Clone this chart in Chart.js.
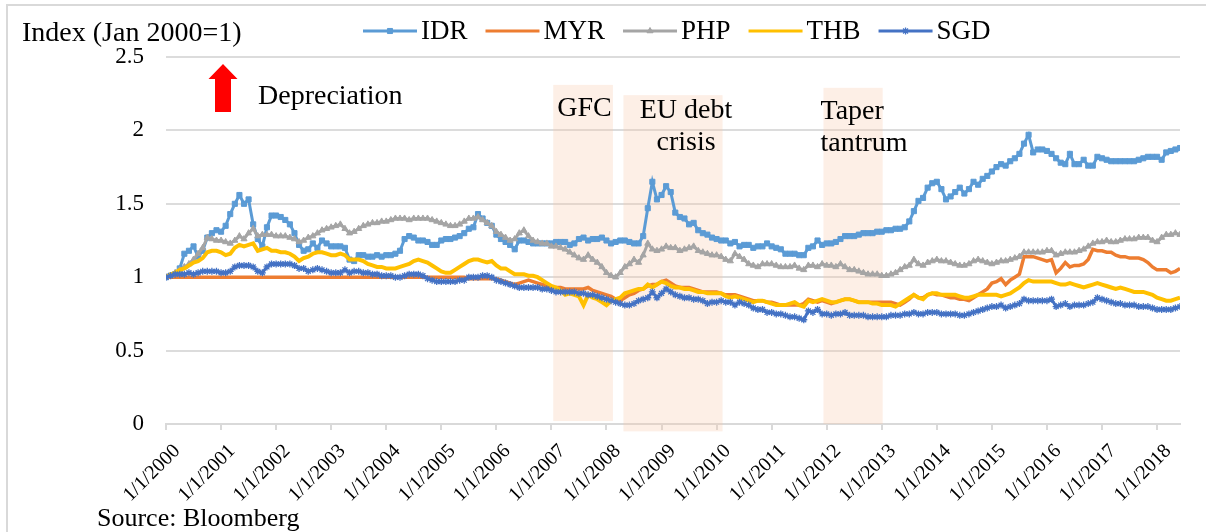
<!DOCTYPE html>
<html>
<head>
<meta charset="utf-8">
<script src="https://cdn.jsdelivr.net/npm/chart.js@4.4.1/dist/chart.umd.min.js"></script>
<style>
  html, body { margin: 0; padding: 0; background: #fff; overflow: hidden; }
  #wrap { position: relative; width: 1206px; height: 532px; }
</style>
</head>
<body>
<div id="wrap"><canvas id="fxChart"></canvas></div>
<script>
// monthly index values, Jan 2000 = 1 (month 0), one row per year
const startYear = 2000;

const idr = [
  1.00, 1.01, 1.02, 1.06, 1.16, 1.18, 1.21, 1.14, 1.18, 1.27, 1.30, 1.32,
  1.31, 1.35, 1.43, 1.50, 1.56, 1.50, 1.53, 1.36, 1.26, 1.21, 1.34, 1.42,
  1.42, 1.41, 1.39, 1.36, 1.30, 1.22, 1.18, 1.19, 1.23, 1.20, 1.25, 1.23,
  1.21, 1.21, 1.21, 1.20, 1.12, 1.11, 1.15, 1.15, 1.14, 1.14, 1.15, 1.14,
  1.15, 1.15, 1.16, 1.18, 1.26, 1.28, 1.27, 1.25, 1.25, 1.24, 1.22, 1.22,
  1.25, 1.26, 1.26, 1.27, 1.28, 1.30, 1.33, 1.34, 1.43, 1.40, 1.37, 1.35,
  1.29, 1.26, 1.24, 1.22, 1.19, 1.25, 1.25, 1.24, 1.23, 1.23, 1.23, 1.23,
  1.23, 1.24, 1.24, 1.24, 1.22, 1.23, 1.26, 1.27, 1.25, 1.26, 1.26, 1.27,
  1.25, 1.23, 1.24, 1.25, 1.25, 1.24, 1.23, 1.23, 1.28, 1.47, 1.65,
  1.53, 1.56, 1.62, 1.58, 1.44, 1.41, 1.40, 1.36, 1.37, 1.32, 1.30, 1.29,
  1.27, 1.26, 1.25, 1.25, 1.23, 1.24, 1.21, 1.22, 1.22, 1.20, 1.21, 1.21,
  1.23, 1.21, 1.20, 1.19, 1.16, 1.16, 1.16, 1.15, 1.15, 1.20, 1.21, 1.25,
  1.22, 1.23, 1.23, 1.24, 1.26, 1.28, 1.28, 1.28, 1.29, 1.30, 1.30, 1.30,
  1.31, 1.31, 1.32, 1.32, 1.33, 1.33, 1.34, 1.38, 1.45, 1.52, 1.54, 1.61,
  1.64, 1.65, 1.60, 1.53, 1.55, 1.58, 1.61, 1.57, 1.60, 1.65, 1.63, 1.67,
  1.69, 1.72, 1.75, 1.77, 1.76, 1.79, 1.81, 1.84, 1.91, 1.97, 1.85, 1.87,
  1.87, 1.86, 1.84, 1.81, 1.78, 1.77, 1.84, 1.77, 1.77, 1.80, 1.76, 1.76,
  1.82, 1.81, 1.80, 1.79, 1.79, 1.79, 1.79, 1.79, 1.79, 1.80, 1.81, 1.82,
  1.82, 1.82, 1.80, 1.85, 1.86, 1.87, 1.88
];

const myr = [
  1.00, 1.00, 1.00, 1.00, 1.00, 1.00, 1.00, 1.00, 1.00, 1.00, 1.00, 1.00,
  1.00, 1.00, 1.00, 1.00, 1.00, 1.00, 1.00, 1.00, 1.00, 1.00, 1.00, 1.00,
  1.00, 1.00, 1.00, 1.00, 1.00, 1.00, 1.00, 1.00, 1.00, 1.00, 1.00, 1.00,
  1.00, 1.00, 1.00, 1.00, 1.00, 1.00, 1.00, 1.00, 1.00, 1.00, 1.00, 1.00,
  1.00, 1.00, 1.00, 1.00, 1.00, 1.00, 1.00, 1.00, 1.00, 1.00, 1.00, 1.00,
  1.00, 1.00, 1.00, 1.00, 1.00, 1.00, 0.99, 0.99, 0.99, 0.99, 0.99, 0.99,
  0.99, 0.98, 0.97, 0.96, 0.95, 0.96, 0.97, 0.98, 0.97, 0.96, 0.95, 0.94,
  0.93, 0.93, 0.93, 0.92, 0.92, 0.92, 0.92, 0.92, 0.93, 0.91, 0.90, 0.89,
  0.88, 0.87, 0.85, 0.84, 0.86, 0.88, 0.89, 0.91, 0.92, 0.94, 0.95,
  0.95, 0.97, 0.98, 0.96, 0.94, 0.93, 0.93, 0.93, 0.92, 0.91, 0.90, 0.90,
  0.90, 0.90, 0.89, 0.88, 0.88, 0.88, 0.87, 0.86, 0.85, 0.84, 0.84, 0.84,
  0.83, 0.83, 0.82, 0.81, 0.81, 0.81, 0.81, 0.81, 0.82, 0.85, 0.84, 0.83,
  0.84, 0.83, 0.82, 0.83, 0.84, 0.85, 0.85, 0.84, 0.83, 0.83, 0.83, 0.83,
  0.83, 0.83, 0.83, 0.83, 0.82, 0.81, 0.83, 0.85, 0.88, 0.86, 0.86, 0.88,
  0.89, 0.88, 0.88, 0.87, 0.86, 0.86, 0.85, 0.85, 0.84, 0.86, 0.88, 0.90,
  0.92, 0.96, 0.97, 0.99, 0.95, 0.98, 1.00, 1.02, 1.14, 1.14, 1.14, 1.13,
  1.12, 1.11, 1.12, 1.03, 1.06, 1.10, 1.07, 1.08, 1.08, 1.09, 1.12, 1.19,
  1.18, 1.18, 1.17, 1.17, 1.15, 1.14, 1.14, 1.13, 1.13, 1.13, 1.12, 1.10,
  1.07, 1.05, 1.05, 1.05, 1.03, 1.04, 1.06
];

const php = [
  1.00, 1.01, 1.03, 1.05, 1.07, 1.09, 1.12, 1.16, 1.20, 1.27, 1.26, 1.25,
  1.25, 1.24, 1.23, 1.25, 1.28, 1.26, 1.30, 1.33, 1.28, 1.29, 1.29, 1.29,
  1.28, 1.28, 1.28, 1.27, 1.26, 1.24, 1.25, 1.27, 1.28, 1.30, 1.32, 1.33,
  1.34, 1.35, 1.36, 1.33, 1.30, 1.31, 1.33, 1.35, 1.36, 1.37, 1.37, 1.38,
  1.38, 1.39, 1.40, 1.40, 1.40, 1.39, 1.40, 1.40, 1.40, 1.40, 1.39, 1.38,
  1.37, 1.36, 1.35, 1.35, 1.36, 1.38, 1.40, 1.40, 1.41, 1.39, 1.37, 1.35,
  1.31, 1.29, 1.27, 1.25, 1.26, 1.30, 1.32, 1.28, 1.25, 1.24, 1.23, 1.23,
  1.21, 1.21, 1.20, 1.19, 1.17, 1.15, 1.13, 1.12, 1.15, 1.12, 1.10, 1.07,
  1.03, 1.01, 1.00, 1.03, 1.07, 1.09, 1.12, 1.10, 1.15, 1.23, 1.19,
  1.18, 1.19, 1.21, 1.20, 1.20, 1.18, 1.19, 1.20, 1.21, 1.18, 1.17, 1.16,
  1.15, 1.15, 1.14, 1.12, 1.11, 1.16, 1.14, 1.12, 1.09, 1.08, 1.07, 1.09,
  1.09, 1.09, 1.08, 1.07, 1.07, 1.07, 1.08, 1.06, 1.05, 1.08, 1.08, 1.07,
  1.09, 1.08, 1.08, 1.07, 1.09, 1.07, 1.05, 1.05, 1.04, 1.03, 1.02, 1.02,
  1.02, 1.01, 1.01, 1.02, 1.03, 1.05, 1.07, 1.08, 1.12, 1.09, 1.08, 1.10,
  1.11, 1.12, 1.11, 1.11, 1.10, 1.09, 1.08, 1.08, 1.09, 1.11, 1.12, 1.11,
  1.10, 1.09, 1.10, 1.11, 1.11, 1.12, 1.13, 1.14, 1.17, 1.17, 1.17, 1.17,
  1.17, 1.18, 1.18, 1.15, 1.16, 1.17, 1.17, 1.17, 1.18, 1.19, 1.21, 1.23,
  1.24, 1.24, 1.25, 1.24, 1.24, 1.25, 1.26, 1.26, 1.26, 1.27, 1.27, 1.27,
  1.25, 1.24, 1.27, 1.29, 1.29, 1.30, 1.29
];

const thb = [
  1.00, 1.02, 1.03, 1.05, 1.06, 1.08, 1.10, 1.11, 1.13, 1.17, 1.18, 1.18,
  1.17, 1.15, 1.16, 1.20, 1.22, 1.21, 1.22, 1.23, 1.18, 1.19, 1.20, 1.18,
  1.18, 1.17, 1.17, 1.16, 1.14, 1.11, 1.13, 1.14, 1.16, 1.17, 1.17, 1.16,
  1.15, 1.15, 1.16, 1.15, 1.12, 1.12, 1.12, 1.11, 1.09, 1.08, 1.07, 1.07,
  1.06, 1.06, 1.06, 1.07, 1.08, 1.09, 1.11, 1.12, 1.11, 1.10, 1.08, 1.06,
  1.04, 1.03, 1.03, 1.05, 1.07, 1.09, 1.11, 1.12, 1.12, 1.11, 1.10, 1.11,
  1.08, 1.06, 1.06, 1.04, 1.02, 1.02, 1.02, 1.01, 1.01, 1.00, 0.98, 0.96,
  0.94, 0.93, 0.91, 0.88, 0.89, 0.88, 0.87, 0.81, 0.88, 0.86, 0.85, 0.83,
  0.81, 0.84, 0.85, 0.86, 0.89, 0.90, 0.91, 0.92, 0.92, 0.95, 0.93,
  0.95, 0.97, 0.96, 0.94, 0.93, 0.93, 0.92, 0.92, 0.91, 0.90, 0.90, 0.89,
  0.89, 0.89, 0.89, 0.87, 0.86, 0.87, 0.86, 0.85, 0.84, 0.83, 0.84, 0.84,
  0.83, 0.82, 0.81, 0.81, 0.81, 0.82, 0.83, 0.81, 0.80, 0.84, 0.83, 0.84,
  0.85, 0.84, 0.83, 0.83, 0.84, 0.85, 0.85, 0.84, 0.83, 0.83, 0.83, 0.82,
  0.82, 0.81, 0.81, 0.81, 0.80, 0.82, 0.84, 0.86, 0.88, 0.86, 0.85, 0.88,
  0.89, 0.89, 0.88, 0.88, 0.88, 0.88, 0.87, 0.86, 0.86, 0.87, 0.88, 0.88,
  0.88, 0.88, 0.88, 0.87, 0.88, 0.89, 0.91, 0.93, 0.96, 0.98, 0.97, 0.97,
  0.97, 0.97, 0.97, 0.96, 0.95, 0.95, 0.96, 0.95, 0.94, 0.93, 0.94, 0.95,
  0.96, 0.95, 0.94, 0.93, 0.92, 0.93, 0.92, 0.91, 0.90, 0.90, 0.90, 0.89,
  0.88, 0.86, 0.85, 0.84, 0.84, 0.85, 0.86
];

const sgd = [
  1.00, 1.01, 1.02, 1.02, 1.02, 1.03, 1.02, 1.03, 1.04, 1.04, 1.04, 1.04,
  1.03, 1.03, 1.04, 1.07, 1.08, 1.08, 1.08, 1.07, 1.04, 1.03, 1.07, 1.09,
  1.09, 1.09, 1.09, 1.09, 1.08, 1.06, 1.06, 1.04, 1.05, 1.06, 1.05, 1.04,
  1.03, 1.03, 1.03, 1.05, 1.03, 1.04, 1.04, 1.03, 1.03, 1.02, 1.02, 1.01,
  1.01, 1.01, 1.00, 1.00, 1.01, 1.02, 1.02, 1.02, 1.01, 0.99, 0.98, 0.97,
  0.97, 0.97, 0.97, 0.97, 0.98, 0.98, 1.00, 1.00, 1.00, 1.01, 1.01, 1.00,
  0.98, 0.97, 0.96, 0.95, 0.94, 0.93, 0.93, 0.93, 0.93, 0.93, 0.92, 0.92,
  0.91, 0.90, 0.90, 0.90, 0.90, 0.90, 0.89, 0.89, 0.88, 0.88, 0.87, 0.86,
  0.85, 0.84, 0.83, 0.82, 0.81, 0.81, 0.82, 0.84, 0.85, 0.86, 0.90,
  0.86, 0.89, 0.92, 0.90, 0.88, 0.87, 0.86, 0.86, 0.85, 0.85, 0.84, 0.82,
  0.83, 0.83, 0.84, 0.83, 0.83, 0.81, 0.83, 0.82, 0.81, 0.79, 0.78, 0.78,
  0.76, 0.76, 0.75, 0.75, 0.74, 0.73, 0.73, 0.72, 0.71, 0.77, 0.76, 0.78,
  0.75, 0.75, 0.74, 0.75, 0.75, 0.76, 0.74, 0.74, 0.74, 0.74, 0.73, 0.73,
  0.73, 0.73, 0.73, 0.74, 0.74, 0.74, 0.75, 0.75, 0.76, 0.75, 0.75, 0.76,
  0.76, 0.76, 0.75, 0.75, 0.75, 0.75, 0.74, 0.74, 0.75, 0.76, 0.77, 0.78,
  0.79, 0.80, 0.80, 0.81, 0.79, 0.80, 0.81, 0.82, 0.85, 0.84, 0.84, 0.84,
  0.84, 0.84, 0.85, 0.80, 0.81, 0.82, 0.80, 0.81, 0.81, 0.81, 0.82, 0.83,
  0.86, 0.85, 0.84, 0.83, 0.82, 0.82, 0.81, 0.81, 0.81, 0.80, 0.80, 0.80,
  0.79, 0.78, 0.78, 0.78, 0.78, 0.79, 0.80
];

// shaded episodes, in month index (0 = Jan 2000) and index units
const episodes = [
  { name: ["GFC"], start: 84.4, end: 97.4, low: 0.02, high: 2.31 },
  { name: ["EU debt", "crisis"], start: 99.7, end: 121.3, low: -0.05, high: 2.24 },
  { name: ["Taper", "tantrum"], start: 143.3, end: 156.2, low: 0, high: 2.29 }
];

const yTicks = [0, 0.5, 1, 1.5, 2, 2.5];

const serif = "'Liberation Serif', 'Times New Roman', serif";
Chart.defaults.font.family = serif;
Chart.defaults.color = "#000";

const toPoints = arr => arr.map((v, i) => ({ x: i, y: v }));
const lastMonth = idr.length - 1;
const dateLabel = m => "1/1/" + (startYear + m / 12);

// where each episode label sits relative to its band
const episodeLabelLayout = [
  { align: "left", dx: 4, base: [116] },
  { align: "center", dx: 13, base: [118, 150] },
  { align: "left", dx: -3, base: [119, 151] }
];

const bandsPlugin = {
  id: "bands",
  beforeDraw(chart) {
    const ctx = chart.ctx;
    ctx.save();
    ctx.fillStyle = "#fff";
    ctx.fillRect(0, 0, chart.width, chart.height);
    ctx.strokeStyle = "#D9D9D9";
    ctx.lineWidth = 2;
    ctx.beginPath();
    ctx.moveTo(7, chart.height);
    ctx.lineTo(7, 5);
    ctx.lineTo(chart.width, 5);
    ctx.stroke();
    ctx.restore();
  },
  beforeDatasetsDraw(chart) {
    const { ctx, scales: { x, y } } = chart;
    ctx.save();
    ctx.fillStyle = "rgba(248, 203, 173, 0.3)";
    episodes.forEach(e => {
      const x1 = x.getPixelForValue(e.start);
      const x2 = x.getPixelForValue(e.end);
      const y1 = y.getPixelForValue(e.high);
      const y2 = y.getPixelForValue(e.low);
      ctx.fillRect(x1, y1, x2 - x1, y2 - y1);
    });
    ctx.restore();
  }
};

const drawMarker = (ctx, ds, cx, cy) => {
  if (!ds.pointRadius) return;
  ctx.fillStyle = ds.borderColor;
  ctx.strokeStyle = ds.borderColor;
  ctx.lineWidth = ds.pointBorderWidth || 1;
  if (Chart.helpers && Chart.helpers.drawPoint) {
    Chart.helpers.drawPoint(ctx, {
      pointStyle: ds.pointStyle, radius: ds.pointRadius,
      rotation: 0, borderWidth: ds.pointBorderWidth || 1
    }, cx, cy);
  } else {
    ctx.fillRect(cx - 3, cy - 3, 6, 6);
  }
};

const textPlugin = {
  id: "texts",
  afterDraw(chart) {
    const { ctx, scales: { x } } = chart;
    ctx.save();
    ctx.fillStyle = "#000";

    // rotated date labels under the year ticks
    ctx.font = "20px " + serif;
    ctx.textAlign = "right";
    ctx.textBaseline = "top";
    x.ticks.forEach(t => {
      ctx.save();
      ctx.translate(x.getPixelForValue(t.value) + 4, x.top + 17);
      ctx.rotate(-Math.PI / 4);
      ctx.fillText(dateLabel(t.value), 0, 0);
      ctx.restore();
    });

    ctx.textBaseline = "alphabetic";

    // y-axis title
    ctx.font = "28px " + serif;
    ctx.textAlign = "left";
    ctx.fillText("Index (Jan 2000=1)", 22, 41);

    // legend
    ctx.font = "27px " + serif;
    let lx = 363;
    const ly = 31;
    chart.data.datasets.forEach(ds => {
      ctx.strokeStyle = ds.borderColor;
      ctx.lineWidth = 3;
      ctx.beginPath();
      ctx.moveTo(lx, ly);
      ctx.lineTo(lx + 54, ly);
      ctx.stroke();
      drawMarker(ctx, ds, lx + 27, ly);
      ctx.fillStyle = "#000";
      ctx.fillText(ds.label, lx + 58, 38.5);
      lx += 58 + ctx.measureText(ds.label).width + 18;
    });

    // episode labels
    ctx.font = "28px " + serif;
    episodes.forEach((e, i) => {
      const lay = episodeLabelLayout[i];
      const left = x.getPixelForValue(e.start);
      const mid = (left + x.getPixelForValue(e.end)) / 2;
      ctx.textAlign = lay.align;
      const tx = lay.align === "center" ? mid + lay.dx : left + lay.dx;
      e.name.forEach((line, j) => ctx.fillText(line, tx, lay.base[j]));
    });

    // depreciation arrow
    ctx.fillStyle = "#FF0000";
    ctx.beginPath();
    ctx.moveTo(223, 64);
    ctx.lineTo(237.5, 79);
    ctx.lineTo(231, 79);
    ctx.lineTo(231, 112);
    ctx.lineTo(215, 112);
    ctx.lineTo(215, 79);
    ctx.lineTo(208.5, 79);
    ctx.closePath();
    ctx.fill();
    ctx.fillStyle = "#000";
    ctx.textAlign = "left";
    ctx.fillText("Depreciation", 258, 103.5);

    // source
    ctx.font = "26px " + serif;
    ctx.fillText("Source: Bloomberg", 97, 526);
    ctx.restore();
  }
};

new Chart(document.getElementById("fxChart"), {
  type: "line",
  data: {
    datasets: [
      {
        label: "IDR", data: toPoints(idr), borderColor: "#5B9BD5",
        backgroundColor: "#5B9BD5", borderWidth: 3,
        pointStyle: "rect", pointRadius: 3.6, pointBorderWidth: 1, order: 5
      },
      {
        label: "MYR", data: toPoints(myr), borderColor: "#ED7D31",
        backgroundColor: "#ED7D31", borderWidth: 3.5, pointRadius: 0, order: 4
      },
      {
        label: "PHP", data: toPoints(php), borderColor: "#A5A5A5",
        backgroundColor: "#A5A5A5", borderWidth: 3,
        pointStyle: "triangle", pointRadius: 3.5, pointBorderWidth: 1, order: 3
      },
      {
        label: "THB", data: toPoints(thb), borderColor: "#FFC000",
        backgroundColor: "#FFC000", borderWidth: 4, pointRadius: 0, order: 2
      },
      {
        label: "SGD", data: toPoints(sgd), borderColor: "#4472C4",
        backgroundColor: "#4472C4", borderWidth: 3,
        pointStyle: "star", pointRadius: 3.5, pointBorderWidth: 1.3, order: 1
      }
    ]
  },
  options: {
    responsive: true,
    maintainAspectRatio: false,
    animation: false,
    events: [],
    layout: { padding: { top: 57, right: 26, left: 0, bottom: 0 } },
    elements: { line: { tension: 0 } },
    plugins: {
      legend: { display: false },
      tooltip: { enabled: false },
      title: { display: false }
    },
    scales: {
      x: {
        type: "linear",
        min: 0,
        max: lastMonth,
        afterFit: s => { s.height = 108; },
        grid: {
          drawOnChartArea: false, drawTicks: true, tickLength: 6,
          color: "#D9D9D9", lineWidth: 2
        },
        border: { display: true, color: "#D9D9D9", width: 2 },
        ticks: {
          display: false,
          stepSize: 12,
          includeBounds: false,
          autoSkip: false,
          minRotation: 45,
          maxRotation: 45,
          callback: v => dateLabel(v)
        }
      },
      y: {
        min: yTicks[0],
        max: yTicks[yTicks.length - 1],
        afterFit: s => { s.width = 166; },
        grid: { color: "#DCDCDC", lineWidth: 2, drawTicks: false },
        border: { display: false },
        ticks: {
          stepSize: 0.5, padding: 22, font: { size: 23 },
          callback: v => String(v)
        }
      }
    }
  },
  plugins: [bandsPlugin, textPlugin]
});
</script>
</body>
</html>
